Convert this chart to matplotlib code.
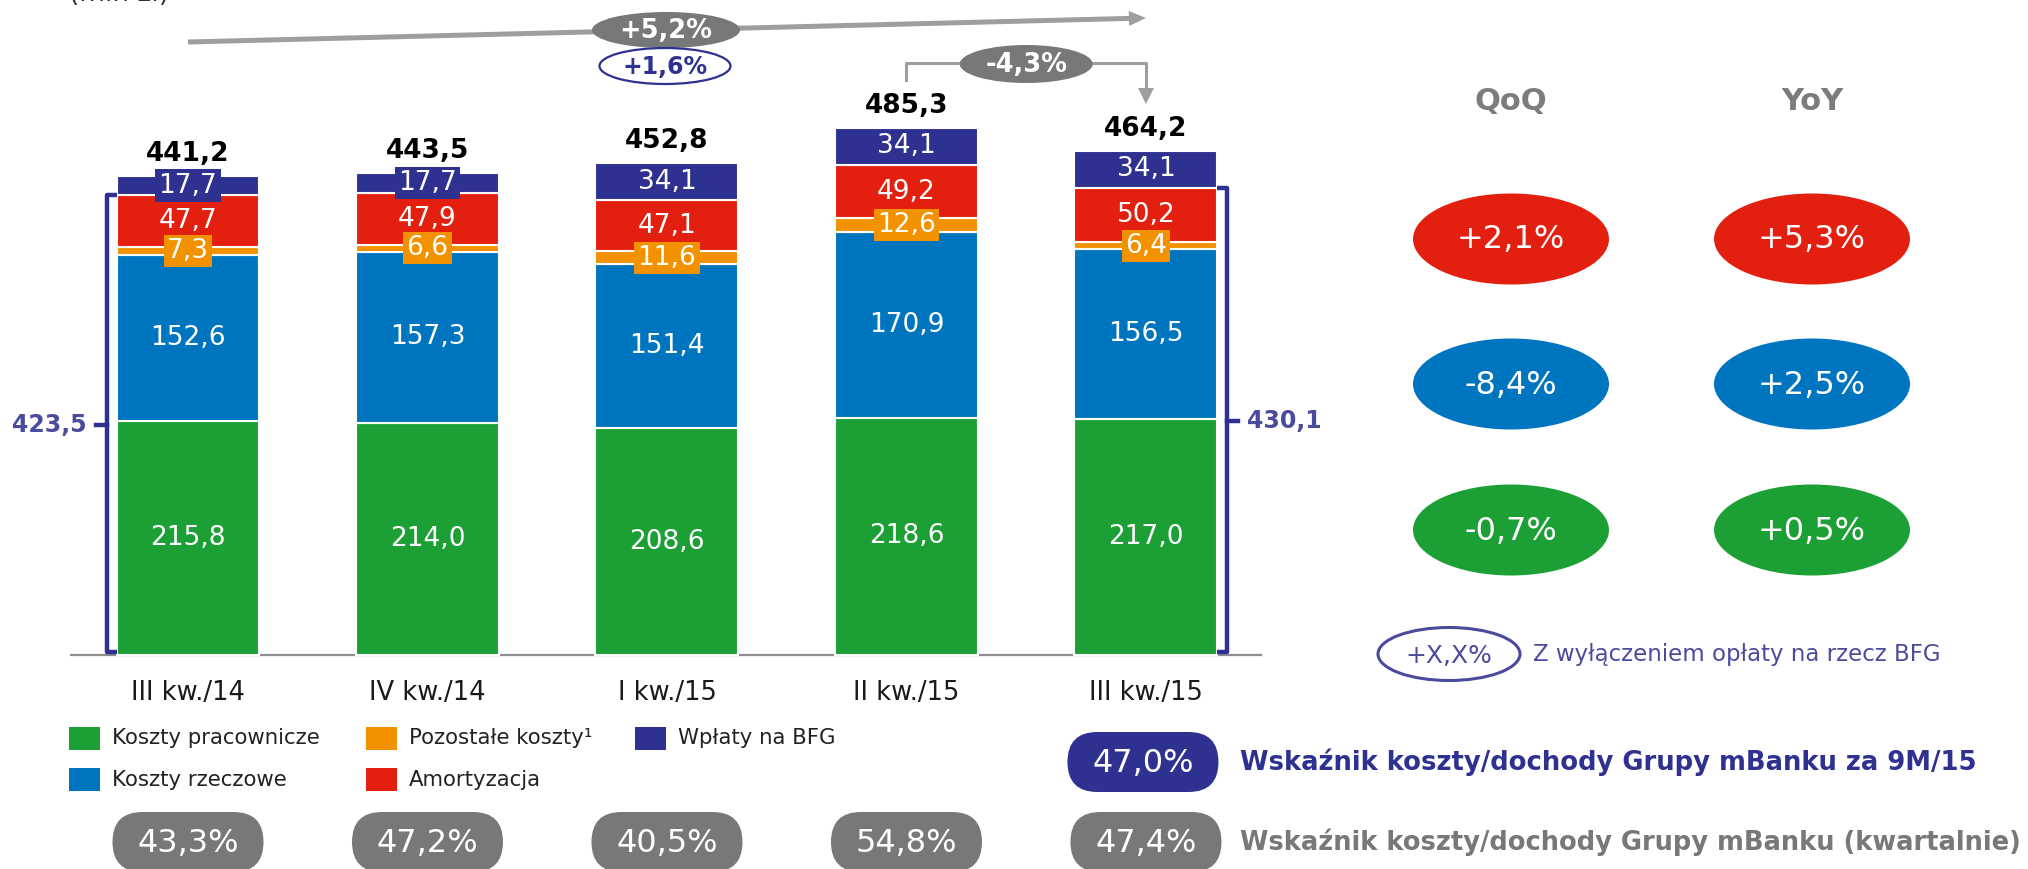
import numpy as np
import matplotlib
matplotlib.use("Agg")
import matplotlib.pyplot as plt
from matplotlib.patches import Ellipse, FancyBboxPatch, Rectangle, FancyArrow, Polygon

# --- data (mln zł) ---
quarters = ["III kw./14", "IV kw./14", "I kw./15", "II kw./15", "III kw./15"]
staff = [215.8, 214.0, 208.6, 218.6, 217.0]
material = [152.6, 157.3, 151.4, 170.9, 156.5]
other = [7.3, 6.6, 11.6, 12.6, 6.4]
amort = [47.7, 47.9, 47.1, 49.2, 50.2]
bfg = [17.7, 17.7, 34.1, 34.1, 34.1]
totals = [441.2, 443.5, 452.8, 485.3, 464.2]
ex_bfg = {0: 423.5, 4: 430.1}          # costs without BFG fee
cost_income_q = [43.3, 47.2, 40.5, 54.8, 47.4]
cost_income_9m = 47.0
total_yoy, total_yoy_ex_bfg, total_qoq = 5.2, 1.6, -4.3
qoq = [2.1, -8.4, -0.7]
yoy = [5.3, 2.5, 0.5]

legend_labels = ["Koszty pracownicze", "Koszty rzeczowe", "Pozostałe koszty\u00b9",
                 "Amortyzacja", "Wpłaty na BFG"]

GREEN = "#1CA036"
BLUE = "#0075BF"
ORANGE = "#F39200"
RED = "#E3200F"
NAVY = "#2E3190"
PURPLE = "#4B4B9D"
GRAY = "#76787A"
LIGHT_GRAY = "#9D9E9E"
DARK = "#1A1A1A"


def fmt(v, sign=False, pct=False):
    s = f"{v:+.1f}" if sign else f"{v:.1f}"
    s = s.replace(".", ",")
    return s + "%" if pct else s


W, H = 2028, 869
fig = plt.figure(figsize=(W / 100, H / 100), dpi=100)

# bar axes fills the figure, scales chosen to place bars
ax = fig.add_axes([0, 0, 1, 1])
ax.set_xlim(-0.785, 7.683)
ax.set_ylim(-197.0, 603.1)
ax.axis("off")

# overlay in pixel units (y down) for annotations
ov = fig.add_axes([0, 0, 1, 1])
ov.set_xlim(0, W)
ov.set_ylim(H, 0)
ov.axis("off")


def px(x, y=0):
    dx, dy = ax.transData.transform((x, y))
    return dx, H - dy


x = np.arange(len(quarters))
bw = 0.597
series = [(staff, GREEN), (material, BLUE), (other, ORANGE), (amort, RED), (bfg, NAVY)]
bottom = np.zeros(len(quarters))
for vals, color in series:
    ax.bar(x, vals, width=bw, bottom=bottom, color=color, edgecolor="white",
           linewidth=1.5, zorder=2)
    for xi, v, b in zip(x, vals, bottom):
        box = None
        if color in (ORANGE, NAVY):
            box = dict(boxstyle="square,pad=0.12", fc=color, ec="none")
        ax.text(xi, b + v / 2, fmt(v), ha="center", va="center", color="white",
                fontsize=19, bbox=box, zorder=4)
    bottom += np.array(vals)

for xi, top, t in zip(x, bottom, totals):
    ax.annotate(fmt(t), (xi, top), xytext=(0, 16), textcoords="offset points",
                ha="center", va="center", fontsize=19, fontweight="bold", color="black")

ax.hlines(0, -0.493, 4.484, color="#8E8E8E", lw=1.6, zorder=1)

# brackets around costs without BFG
for i, v in ex_bfg.items():
    side = -1 if i == 0 else 1
    edge = i + side * bw / 2
    xl = i + side * 0.338
    ax.plot([edge, xl, xl, edge], [v, v, 3, 3], color=NAVY, lw=3.2,
            solid_joinstyle="round", solid_capstyle="butt", zorder=3)
    ax.plot([xl, xl + side * 0.045], [v / 2, v / 2], color=NAVY, lw=3.2, zorder=3)
    ax.text(xl + side * 0.085, v / 2, fmt(v), ha="right" if side < 0 else "left",
            va="center", fontsize=17, fontweight="bold", color=PURPLE)

# categories
for i, q in enumerate(quarters):
    ov.text(px(i)[0], 693, q, ha="center", va="center", fontsize=18.5, color=DARK)

ov.text(69, 7, "(mln zł)", ha="left", va="bottom", fontsize=19, color="#333333")

# yearly change arrow
x0, x2, x3, x4 = px(0)[0], px(2)[0], px(3)[0], px(4)[0]
ov.add_patch(FancyArrow(x0, 42, x4 - x0, 18 - 42, width=5, head_width=15,
                        head_length=17, length_includes_head=True,
                        color=LIGHT_GRAY, lw=0, zorder=2))
ov.add_patch(Ellipse((x2 - 1, 30), 148, 36, fc=GRAY, ec="none", zorder=3))
ov.text(x2 - 1, 31, fmt(total_yoy, sign=True, pct=True), ha="center", va="center",
        fontsize=18.5, fontweight="bold", color="white", zorder=4)
ov.add_patch(Ellipse((x2 - 2, 66), 131, 36, fc="white", ec=NAVY, lw=1.6, zorder=3))
ov.text(x2 - 2, 67, fmt(total_yoy_ex_bfg, sign=True, pct=True), ha="center",
        va="center", fontsize=17, fontweight="bold", color=NAVY, zorder=4)

# quarterly change bracket
ov.plot([x3, x3, x4, x4], [80, 63, 63, 89], color=LIGHT_GRAY, lw=2.2, zorder=2)
ov.add_patch(Polygon([(x4 - 8, 88), (x4 + 8, 88), (x4, 104)], closed=True,
                     fc=LIGHT_GRAY, ec="none", zorder=2))
xm = (x3 + x4) / 2
ov.add_patch(Ellipse((xm, 64), 133, 38, fc=GRAY, ec="none", zorder=3))
ov.text(xm, 65, fmt(total_qoq, sign=True, pct=True), ha="center", va="center",
        fontsize=18.5, fontweight="bold", color="white", zorder=4)

# legend
leg_colors = [GREEN, BLUE, ORANGE, RED, NAVY]
col_x = [69, 366, 635]
row_y = [738.5, 779.5]
for k, (lab, col) in enumerate(zip(legend_labels, leg_colors)):
    cx, cy = col_x[k // 2], row_y[k % 2]
    ov.add_patch(Rectangle((cx, cy - 11.5), 31, 23, fc=col, ec="none"))
    ov.text(cx + 43, cy, lab, ha="left", va="center", fontsize=15.3, color="#222222")

# cost/income pills
def pill(cx, cy, text, color):
    ov.add_patch(FancyBboxPatch((cx - 75.5, cy - 30), 151, 60,
                                boxstyle="round,pad=0,rounding_size=30",
                                fc=color, ec="none", zorder=3))
    ov.text(cx, cy + 1, text, ha="center", va="center", fontsize=23,
            color="white", zorder=4)


for i, r in enumerate(cost_income_q):
    pill(px(i)[0], 842, fmt(r, pct=True), GRAY)
pill(x4 - 3, 762, fmt(cost_income_9m, pct=True), NAVY)
ov.text(1240, 762, "Wskaźnik koszty/dochody Grupy mBanku za 9M/15", ha="left",
        va="center", fontsize=18.6, fontweight="bold", color=NAVY)
ov.text(1240, 842, "Wskaźnik koszty/dochody Grupy mBanku (kwartalnie)", ha="left",
        va="center", fontsize=18.5, fontweight="bold", color=GRAY)

# QoQ / YoY panel
panel_x = [1511, 1812]
row_cy = [239, 384, 530]
row_colors = [RED, BLUE, GREEN]
for cx, head, vals in zip(panel_x, ["QoQ", "YoY"], [qoq, yoy]):
    ov.text(cx, 102, head, ha="center", va="center", fontsize=22,
            fontweight="bold", color="#7A7C7E")
    for cy, col, v in zip(row_cy, row_colors, vals):
        ov.add_patch(Ellipse((cx, cy), 196, 91, fc=col, ec="none"))
        ov.text(cx, cy + 1, fmt(v, sign=True, pct=True), ha="center", va="center",
                fontsize=23, color="white")

ov.add_patch(Ellipse((1449, 654), 142, 53, fc="white", ec=PURPLE, lw=2.2))
ov.text(1449, 656, "+X,X%", ha="center", va="center", fontsize=18, color=PURPLE)
ov.text(1533, 654, "Z wyłączeniem opłaty na rzecz BFG", ha="left", va="center",
        fontsize=16.5, color=PURPLE)

fig.savefig("out.png", dpi=100)
